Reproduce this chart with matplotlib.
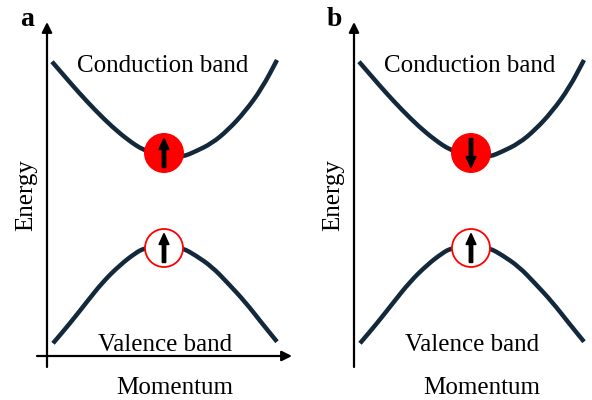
import matplotlib
matplotlib.use("Agg")
import matplotlib.pyplot as plt
from matplotlib.patches import Circle, PathPatch
from matplotlib.path import Path

plt.rcParams['font.family'] = ['Liberation Serif', 'DejaVu Serif']

# Band dispersion (momentum k, energy E; arbitrary units)
cond_k = [-113, -100, -87, -70, -53, -37, -22, 0, 18, 30, 47, 63, 80, 97, 112]
cond_E = [294.3, 279.3, 264.3, 246, 229.3, 216, 206, 198, 199.3, 204.3, 212.7, 226, 244.3, 267.7, 296]
val_k = [-112, -95, -78, -62, -45, -30, -21, 0, 18, 30, 47, 63, 80, 97, 112]
val_E = [12.7, 32.7, 54.3, 74.3, 91, 102.7, 107.7, 112, 107.7, 101, 89.3, 72.7, 54.3, 32.7, 14.3]

panels = ['a', 'b']
electron_spin = ['up', 'down']   # spin in conduction band
hole_spin = ['up', 'up']         # spin in valence band
band_labels = ['Conduction band', 'Valence band']
axis_labels = ['Momentum', 'Energy']

fig = plt.figure(figsize=(5.92, 4.0), dpi=100)
band_color = '#13283a'
red = '#ff0000'


def smooth_band(ax, ks, Es):
    """Draw the band as a smooth quadratic-Bezier path through the read points."""
    pts = list(zip(ks, Es))
    verts = [pts[0]]
    codes = [Path.MOVETO]
    verts.append(((pts[0][0] + pts[1][0]) / 2, (pts[0][1] + pts[1][1]) / 2))
    codes.append(Path.LINETO)
    for j in range(1, len(pts) - 1):
        mid = ((pts[j][0] + pts[j + 1][0]) / 2, (pts[j][1] + pts[j + 1][1]) / 2)
        verts += [pts[j], mid]
        codes += [Path.CURVE3, Path.CURVE3]
    verts.append(pts[-1])
    codes.append(Path.LINETO)
    ax.add_patch(PathPatch(Path(verts, codes), fill=False, edgecolor=band_color,
                           lw=3.2, capstyle='butt', joinstyle='round', zorder=3))


def spin_arrow(ax, k, E, spin):
    half = 14.5
    if spin == 'up':
        ax.arrow(k, E - half, 0, 2 * half, width=3.4, head_width=10, head_length=11,
                 length_includes_head=True, color='black', zorder=6)
    else:
        ax.arrow(k, E + half, 0, -2 * half, width=3.4, head_width=10, head_length=11,
                 length_includes_head=True, color='black', zorder=6)


offsets = [0, 307]
for i, p in enumerate(panels):
    left_px = 0 if i == 0 else 296
    ax = fig.add_axes([left_px / 592, 0, 296 / 592, 1])
    off = offsets[i]
    ax.set_xlim(left_px - off - 165, left_px + 296 - off - 165)
    ax.set_ylim(-44, 356)
    ax.axis('off')

    # axes arrows
    ax.annotate('', xy=(-118, 334), xytext=(-118, -11),
                arrowprops=dict(arrowstyle='-|>', color='black', lw=1.6,
                                mutation_scale=15, shrinkA=0, shrinkB=0))
    ax.annotate('', xy=(127, 0), xytext=(-128, 0),
                arrowprops=dict(arrowstyle='-|>', color='black', lw=1.6,
                                mutation_scale=15, shrinkA=0, shrinkB=0))

    # bands
    smooth_band(ax, cond_k, cond_E)
    smooth_band(ax, val_k, val_E)

    # electron (filled) and hole (open)
    ce = (-1, 203)
    ch = (-1, 108)
    ax.add_patch(Circle(ce, 20, facecolor=red, edgecolor=red, lw=0, zorder=4))
    ax.add_patch(Circle(ch, 19, facecolor='white', edgecolor=red, lw=1.3, zorder=4))
    spin_arrow(ax, ce[0], ce[1], electron_spin[i])
    spin_arrow(ax, ch[0], ch[1], hole_spin[i])

    # labels
    ax.text(-2, 284.3, band_labels[0], fontsize=18, ha='center', va='baseline')
    ax.text(0, 5.3, band_labels[1], fontsize=18, ha='center', va='baseline')
    ax.text(10, -38, axis_labels[0], fontsize=18, ha='center', va='baseline')
    ax.text(-139, 161, axis_labels[1], fontsize=18, ha='center', va='center',
            rotation=90)
    ax.text(-138, 330, p, fontsize=20, fontweight='bold', ha='center', va='baseline')

fig.savefig('out.png', dpi=100)
